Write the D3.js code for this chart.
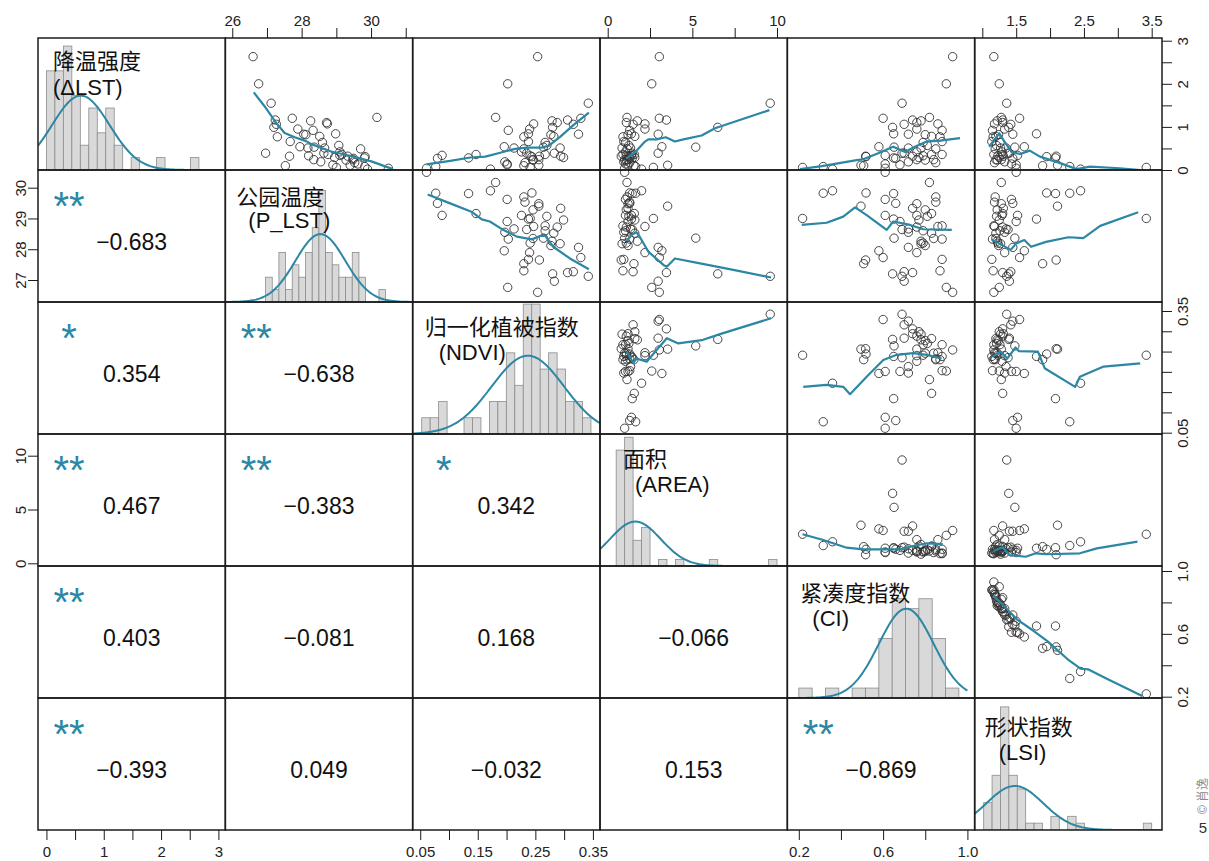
<!DOCTYPE html>
<html>
<head>
<meta charset="utf-8">
<script src="https://cdn.jsdelivr.net/npm/d3@7"></script>
<style>
body { margin: 0; background: #fff; }
</style>
</head>
<body>
<script>
// variable labels (diagonal)
var varNames = ["降温强度", "公园温度", "归一化植被指数", "面积", "紧凑度指数", "形状指数"];
var varCodes = ["(ΔLST)", "(P_LST)", "(NDVI)", "(AREA)", "(CI)", "(LSI)"];

// park values, one entry per park
var dLST = [2.63, 2.00, 1.55, 1.22, 1.20, 1.16, 1.14, 1.10, 1.07, 1.06, 0.99, 0.95, 0.92, 0.84, 0.83, 0.82, 0.78, 0.77, 0.66, 0.64,
    0.57, 0.53, 0.51, 0.51, 0.49, 0.54, 0.42, 0.39, 0.39, 0.36, 0.36, 0.34, 0.32, 0.32, 0.33, 0.31, 0.29, 0.28, 0.27, 0.24,
    0.24, 0.23, 0.19, 0.17, 0.14, 0.12, 0.11, 0.10, 0.08, 0.06, 0.04, 0.02];
var pLST = [26.60, 26.76, 27.12, 30.17, 27.73, 27.24, 28.26, 28.72, 28.74, 27.27, 27.20, 27.89, 28.33, 28.98, 28.06, 28.12, 28.52, 27.30, 27.67, 28.60,
    29.07, 28.36, 28.18, 28.66, 29.70, 27.95, 29.10, 26.96, 28.64, 28.76, 29.16, 29.10, 29.33, 27.65, 28.20, 29.83, 28.95, 29.81, 29.49, 28.35,
    29.48, 29.28, 28.55, 29.53, 29.62, 28.90, 29.40, 27.53, 29.82, 29.00, 30.50, 29.90];
var ndvi = [0.254, 0.202, 0.342, 0.181, 0.329, 0.306, 0.279, 0.288, 0.247, 0.316, 0.280, 0.240, 0.203, 0.238, 0.325, 0.277, 0.282, 0.230, 0.238, 0.267,
    0.270, 0.264, 0.293, 0.213, 0.230, 0.196, 0.226, 0.283, 0.235, 0.267, 0.147, 0.088, 0.294, 0.257, 0.241, 0.244, 0.299, 0.134, 0.080, 0.246,
    0.256, 0.246, 0.197, 0.232, 0.201, 0.201, 0.256, 0.230, 0.077, 0.241, 0.061, 0.172];
var area = [3.05, 2.60, 9.60, 1.14, 3.05, 3.47, 1.75, 1.10, 2.20, 1.50, 6.50, 2.20, 1.30, 1.40, 2.98, 1.20, 1.60, 0.90, 0.95, 1.05,
    1.25, 5.20, 0.85, 1.35, 1.15, 3.20, 1.05, 2.98, 1.45, 0.90, 1.57, 1.40, 1.20, 0.80, 1.10, 1.30, 1.60, 1.45, 1.30, 1.00,
    1.20, 1.10, 0.95, 1.30, 1.05, 1.20, 3.54, 1.55, 1.65, 2.70, 1.00, 2.00];
var ci = [0.93, 0.90, 0.69, 0.82, 0.60, 0.74, 0.78, 0.76, 0.86, 0.70, 0.645, 0.76, 0.88, 0.65, 0.72, 0.80, 0.83, 0.87, 0.88, 0.79,
    0.81, 0.652, 0.78, 0.72, 0.85, 0.58, 0.76, 0.70, 0.69, 0.88, 0.83, 0.61, 0.74, 0.517, 0.79, 0.519, 0.77, 0.65, 0.66, 0.84,
    0.76, 0.80, 0.72, 0.85, 0.61, 0.68, 0.495, 0.508, 0.316, 0.218, 0.61, 0.36];
var lsi = [1.17, 1.25, 1.36, 1.28, 1.55, 1.30, 1.22, 1.30, 1.18, 1.42, 1.39, 1.33, 1.15, 1.80, 1.45, 1.24, 1.20, 1.16, 1.14, 1.26,
    1.21, 1.48, 1.27, 1.35, 1.19, 1.62, 1.29, 1.40, 1.38, 1.17, 1.30, 1.52, 1.31, 2.09, 1.23, 1.95, 1.25, 2.08, 1.45, 1.20,
    1.28, 1.22, 1.33, 1.18, 1.43, 1.50, 2.11, 1.89, 2.29, 3.42, 1.50, 2.45];

// histogram bins on the diagonal (first break, bin width, counts)
var histStart = [0, 26.96, 0.0526, 0.5, 0.2, 1.02];
var histWidth = [0.1478, 0.1922, 0.0147, 0.5, 0.0633, 0.124];
var histDLST = [8, 8, 10, 6, 2, 5, 3, 5, 2, 0, 1, 0, 0, 1, 0, 0, 0, 1];
var histPLST = [2, 1, 4, 1, 3, 2, 4, 6, 9, 4, 3, 2, 2, 4, 2, 0, 0, 1];
var histNDVI = [1, 1, 2, 0, 0, 1, 1, 0, 2, 2, 5, 3, 8, 8, 4, 5, 4, 2, 2, 1];
var histAREA = [18, 20, 4, 6, 0, 1, 0, 1, 0, 0, 0, 1, 0, 0, 0, 0, 0, 0, 1];
var histCI = [1, 0, 1, 0, 1, 1, 6, 10, 9, 10, 6, 1];
var histLSI = [4, 8, 18, 8, 6, 1, 1, 0, 2, 0, 2, 1, 0, 0, 0, 0, 0, 0, 0, 1];

// normal curves over the histograms (mean, sd, peak in counts)
var normMean = [0.60, 28.54, 0.237, 1.63, 0.71, 1.48];
var normSd = [0.50, 0.72, 0.063, 1.50, 0.13, 0.42];
var normPeak = [6.0, 5.48, 4.82, 6.9, 9.0, 6.44];
var normTo = [null, null, null, null, 1.0, null];

// correlations (lower triangle)
var corrR = [[], [-0.683], [0.354, -0.638], [0.467, -0.383, 0.342],
    [0.403, -0.081, 0.168, -0.066], [-0.393, 0.049, -0.032, 0.153, -0.869]];
var corrStars = [[], ["**"], ["*", "**"], ["**", "**", "*"],
    ["**", "", "", ""], ["**", "", "", "", "**"]];

// smoother lines (upper triangle), [x, y]
var smooth12 = [[26.62, 1.80], [26.93, 1.48], [27.27, 1.09], [27.51, 0.86], [27.80, 0.76], [28.13, 0.67], [28.28, 0.60], [28.52, 0.53],
    [28.85, 0.43], [29.24, 0.36], [29.62, 0.28], [30.01, 0.20], [30.39, 0.09], [30.63, 0.02]];
var smooth13 = [[0.061, 0.13], [0.102, 0.21], [0.137, 0.29], [0.163, 0.31], [0.189, 0.40], [0.215, 0.49], [0.235, 0.52], [0.261, 0.52],
    [0.273, 0.56], [0.293, 0.77], [0.316, 1.04], [0.343, 1.33]];
var smooth14 = [[1.12, 0.27], [1.71, 0.45], [2.2, 0.66], [2.4, 0.71], [2.89, 0.71], [3.43, 0.76], [3.97, 0.66], [4.47, 0.71],
    [5.55, 0.80], [6.34, 0.97], [9.55, 1.39]];
var smooth15 = [[0.206, 0.02], [0.309, 0.09], [0.475, 0.23], [0.506, 0.25], [0.577, 0.39], [0.648, 0.54], [0.704, 0.42], [0.751, 0.54],
    [0.807, 0.66], [0.87, 0.68], [0.965, 0.74]];
var smooth16 = [[1.10, 0.54], [1.25, 0.85], [1.31, 0.70], [1.43, 0.42], [1.56, 0.37], [1.70, 0.45], [1.85, 0.31], [2.15, 0.16],
    [2.39, 0.02], [2.59, 0.08], [3.03, 0.04], [3.33, 0.0]];
var smooth23 = [[0.063, 29.78], [0.102, 29.49], [0.139, 29.22], [0.157, 28.97], [0.171, 28.90], [0.194, 28.63], [0.218, 28.41],
    [0.244, 28.32], [0.258, 28.43], [0.267, 28.44], [0.281, 28.08], [0.310, 27.70], [0.343, 27.35]];
var smooth24 = [[1.12, 28.27], [1.46, 28.49], [1.71, 28.55], [1.91, 28.39], [2.40, 27.92], [3.29, 27.49], [3.49, 27.43], [3.97, 27.70],
    [5.45, 27.54], [7.42, 27.33], [9.65, 27.08]];
var smooth25 = [[0.214, 28.79], [0.332, 28.86], [0.411, 29.06], [0.467, 29.36], [0.522, 29.11], [0.617, 28.63], [0.648, 28.90],
    [0.728, 28.79], [0.791, 28.65], [0.926, 28.63]];
var smooth26 = [[1.14, 28.32], [1.42, 27.98], [1.50, 28.19], [1.62, 28.30], [1.72, 28.08], [1.94, 28.24], [2.27, 28.39], [2.49, 28.36],
    [2.74, 28.76], [3.30, 29.20]];
var smooth34 = [[1.12, 0.250], [1.51, 0.222], [1.71, 0.233], [2.30, 0.225], [2.89, 0.254], [3.49, 0.283], [4.17, 0.270], [5.55, 0.278],
    [6.63, 0.293], [9.65, 0.332]];
var smooth35 = [[0.221, 0.163], [0.332, 0.168], [0.411, 0.163], [0.443, 0.145], [0.522, 0.188], [0.601, 0.229], [0.665, 0.242],
    [0.743, 0.246], [0.807, 0.242], [0.878, 0.233]];
var smooth36 = [[1.15, 0.237], [1.27, 0.250], [1.37, 0.233], [1.49, 0.260], [1.54, 0.251], [1.82, 0.250], [1.92, 0.209], [2.37, 0.163],
    [2.44, 0.188], [2.79, 0.213], [3.33, 0.221]];
var smooth45 = [[0.218, 2.70], [0.316, 2.16], [0.427, 1.45], [0.506, 1.30], [0.601, 1.30], [0.680, 1.30], [0.743, 1.61], [0.807, 1.86],
    [0.883, 1.79]];
var smooth46 = [[1.17, 1.17], [1.30, 1.49], [1.40, 0.77], [1.64, 0.61], [1.79, 0.93], [1.94, 0.84], [2.44, 0.93], [2.69, 1.39], [3.29, 2.01]];
var smooth56 = [[1.16, 0.845], [1.32, 0.777], [1.51, 0.692], [1.76, 0.618], [1.96, 0.554], [2.26, 0.438], [2.45, 0.378], [2.56, 0.374],
    [2.86, 0.31], [3.36, 0.204]];

// axis ticks and labels
var topAxes = [
    {col: 1, ticks: [26, 27, 28, 29, 30, 31], labels: [26, 28, 30], fmt: "d"},
    {col: 3, ticks: [0, 2.5, 5, 7.5, 10], labels: [0, 5, 10], fmt: "d"},
    {col: 5, ticks: [1, 1.5, 2, 2.5, 3, 3.5], labels: [1.5, 2.5, 3.5], fmt: ".1f"}];
var bottomAxes = [
    {col: 0, ticks: [0, 0.5, 1, 1.5, 2, 2.5, 3], labels: [0, 1, 2, 3], fmt: "d"},
    {col: 2, ticks: [0.05, 0.1, 0.15, 0.2, 0.25, 0.3, 0.35], labels: [0.05, 0.15, 0.25, 0.35], fmt: ".2f"},
    {col: 4, ticks: [0.2, 0.4, 0.6, 0.8, 1.0], labels: [0.2, 0.6, 1.0], fmt: ".1f"}];
var leftAxes = [
    {row: 1, ticks: [27, 28, 29, 30], labels: [27, 28, 29, 30], fmt: "d"},
    {row: 3, ticks: [0, 5, 10], labels: [0, 5, 10], fmt: "d"}];
var rightAxes = [
    {row: 0, ticks: [0, 0.5, 1, 1.5, 2, 2.5, 3], labels: [0, 1, 2, 3], fmt: "d"},
    {row: 2, ticks: [0.05, 0.1, 0.15, 0.2, 0.25, 0.3, 0.35], labels: [0.05, 0.35], fmt: ".2f"},
    {row: 4, ticks: [0.2, 0.4, 0.6, 0.8, 1.0], labels: [0.2, 0.6, 1.0], fmt: ".1f"}];

// General settings
var W = 1209, H = 861,
    margin = {left: 38, top: 38},
    cellW = 1124 / 6, cellH = 132,
    col = {line: "#2b87a3", bar: "#d9d9d9", barStroke: "#8c8c8c", point: "#333", frame: "#1b1b1b", text: "#111"},
    fontFamily = "'Liberation Sans', Arial, 'Noto Sans CJK SC', sans-serif",
    // scale domains of each variable as columns (x) and as rows (y)
    xDomain = [[-0.147, 3.121], [25.80, 31.20], [0.0369, 0.3623], [-0.455, 10.61], [0.1456, 1.0345], [0.887, 3.652]],
    yDomain = [[0, 3.063], [26.285, 30.575], [0.0468, 0.3722], [-0.251, 12.017], [0.1917, 1.0318], [0, 1]],
    histTop = [10.65, 10.65, 8.13, 20.5, 13.3, 19.3],
    labelDx = [15, 11, 12, 23, 13, 10], labelDy = [31, 35, 33, 33, 35, 37],
    labelDx2 = [15, 23, 26, 35, 25, 24], labelDy2 = [57, 58, 58, 58, 60, 62];

var data = [dLST, pLST, ndvi, area, ci, lsi];
var hists = [histDLST, histPLST, histNDVI, histAREA, histCI, histLSI];
var smooth = {"0,1": smooth12, "0,2": smooth13, "0,3": smooth14, "0,4": smooth15, "0,5": smooth16,
    "1,2": smooth23, "1,3": smooth24, "1,4": smooth25, "1,5": smooth26,
    "2,3": smooth34, "2,4": smooth35, "2,5": smooth36, "3,4": smooth45, "3,5": smooth46, "4,5": smooth56};

function cellX(j) { return margin.left + j * cellW; }
function cellY(i) { return margin.top + i * cellH; }
function xScale(j) { return d3.scaleLinear().domain(xDomain[j]).range([cellX(j), cellX(j) + cellW]); }
function yScale(i) { return d3.scaleLinear().domain(yDomain[i]).range([cellY(i) + cellH, cellY(i)]); }

var svg = d3.select("body").append("svg")
    .attr("width", W)
    .attr("height", H)
    .style("display", "block")
    .attr("font-family", fontFamily);

svg.append("rect").attr("width", W).attr("height", H).attr("fill", "#fff");

var defs = svg.append("defs");

function histPanel(g, k) {
    var x = xScale(k),
        y = d3.scaleLinear().domain([0, histTop[k]]).range([cellY(k) + cellH, cellY(k)]);
    var bins = hists[k].map(function(c, n) {
        return {x0: histStart[k] + n * histWidth[k], x1: histStart[k] + (n + 1) * histWidth[k], count: c};
    }).filter(function(d) { return d.count > 0; });

    g.selectAll(null)
        .data(bins)
        .enter()
        .append("rect")
            .attr("x", function(d) { return x(d.x0); })
            .attr("width", function(d) { return x(d.x1) - x(d.x0); })
            .attr("y", function(d) { return y(d.count); })
            .attr("height", function(d) { return y(0) - y(d.count); })
            .attr("fill", col.bar)
            .attr("stroke", col.barStroke)
            .attr("stroke-width", 0.8);

    // normal curve
    var from = xDomain[k][0],
        to = normTo[k] == null ? xDomain[k][1] : normTo[k];
    var xs = d3.range(0, 161).map(function(n) { return from + (to - from) * n / 160; });
    g.append("path")
        .datum(xs)
        .attr("fill", "none")
        .attr("stroke", col.line)
        .attr("stroke-width", 2)
        .attr("d", d3.line()
            .x(function(v) { return x(v); })
            .y(function(v) { return y(normPeak[k] * Math.exp(-0.5 * Math.pow((v - normMean[k]) / normSd[k], 2))); }));

    // variable label
    svg.append("text")
        .attr("class", "varlabel")
        .attr("x", cellX(k) + labelDx[k])
        .attr("y", cellY(k) + labelDy[k])
        .text(varNames[k]);
    svg.append("text")
        .attr("class", "varlabel")
        .attr("x", cellX(k) + labelDx2[k])
        .attr("y", cellY(k) + labelDy2[k])
        .text(varCodes[k]);
}

function scatterPanel(g, i, j) {
    var x = xScale(j), y = yScale(i);
    var pts = data[j].map(function(v, n) { return [v, data[i][n]]; });

    g.selectAll(null)
        .data(pts)
        .enter()
        .append("circle")
            .attr("cx", function(d) { return x(d[0]); })
            .attr("cy", function(d) { return y(d[1]); })
            .attr("r", 4.2)
            .attr("fill", "none")
            .attr("stroke", col.point)
            .attr("stroke-width", 0.9);

    g.append("path")
        .datum(smooth[i + "," + j])
        .attr("fill", "none")
        .attr("stroke", col.line)
        .attr("stroke-width", 2.2)
        .attr("stroke-linejoin", "round")
        .attr("d", d3.line()
            .x(function(d) { return x(d[0]); })
            .y(function(d) { return y(d[1]); }));
}

function corrPanel(i, j) {
    svg.append("text")
        .attr("x", cellX(j) + cellW / 2)
        .attr("y", cellY(i) + 80)
        .attr("text-anchor", "middle")
        .attr("font-size", "23px")
        .attr("fill", col.text)
        .text(d3.format(".3f")(corrR[i][j]));
    if (corrStars[i][j]) {
        svg.append("text")
            .attr("x", cellX(j) + 31)
            .attr("y", cellY(i) + 50)
            .attr("text-anchor", "middle")
            .attr("font-size", "40px")
            .attr("fill", col.line)
            .text(corrStars[i][j]);
    }
}

for (var i = 0; i < 6; i++) {
    for (var j = 0; j < 6; j++) {
        defs.append("clipPath")
            .attr("id", "clip-" + i + "-" + j)
            .append("rect")
            .attr("x", cellX(j))
            .attr("y", cellY(i))
            .attr("width", cellW)
            .attr("height", cellH);
        if (i === j) {
            histPanel(svg.append("g").attr("clip-path", "url(#clip-" + i + "-" + j + ")"), i);
        } else if (i < j) {
            scatterPanel(svg.append("g").attr("clip-path", "url(#clip-" + i + "-" + j + ")"), i, j);
        } else {
            corrPanel(i, j);
        }
    }
}

svg.selectAll(".varlabel")
    .attr("font-size", "22px")
    .attr("fill", col.text);

// panel frames
for (var i = 0; i < 6; i++) {
    for (var j = 0; j < 6; j++) {
        svg.append("rect")
            .attr("x", cellX(j))
            .attr("y", cellY(i))
            .attr("width", cellW)
            .attr("height", cellH)
            .attr("fill", "none")
            .attr("stroke", col.frame)
            .attr("stroke-width", 1.5);
    }
}

// axes
function labelFormat(a) {
    var f = d3.format(a.fmt);
    return function(v) {
        return a.labels.some(function(l) { return Math.abs(l - v) < 1e-9; }) ? f(v) : "";
    };
}

function styleAxis(g) {
    g.select(".domain").remove();
    g.attr("font-size", 15).attr("font-family", fontFamily).attr("color", col.frame);
    g.selectAll(".tick line").attr("stroke-width", 1);
    g.selectAll(".tick text").attr("fill", "#222");
}

topAxes.forEach(function(a) {
    svg.append("g")
        .attr("transform", "translate(0," + margin.top + ")")
        .call(d3.axisTop(xScale(a.col)).tickValues(a.ticks).tickSize(10).tickPadding(2).tickFormat(labelFormat(a)))
        .call(styleAxis);
});

bottomAxes.forEach(function(a) {
    svg.append("g")
        .attr("transform", "translate(0," + (margin.top + 6 * cellH) + ")")
        .call(d3.axisBottom(xScale(a.col)).tickValues(a.ticks).tickSize(10).tickPadding(6).tickFormat(labelFormat(a)))
        .call(styleAxis);
});

leftAxes.forEach(function(a) {
    svg.append("g")
        .attr("transform", "translate(" + margin.left + ",0)")
        .call(d3.axisLeft(yScale(a.row)).tickValues(a.ticks).tickSize(10).tickFormat(labelFormat(a)))
        .call(styleAxis)
        .selectAll(".tick text")
            .attr("transform", "rotate(-90)")
            .attr("x", 0)
            .attr("y", -12)
            .attr("dy", null)
            .attr("text-anchor", "middle");
});

rightAxes.forEach(function(a) {
    svg.append("g")
        .attr("transform", "translate(" + (margin.left + 6 * cellW) + ",0)")
        .call(d3.axisRight(yScale(a.row)).tickValues(a.ticks).tickSize(10).tickFormat(labelFormat(a)))
        .call(styleAxis)
        .selectAll(".tick text")
            .attr("transform", "rotate(-90)")
            .attr("x", 0)
            .attr("y", 26)
            .attr("dy", null)
            .attr("text-anchor", "middle");
});

// watermark
svg.append("text")
    .attr("transform", "translate(1207,796) rotate(-90)")
    .attr("text-anchor", "middle")
    .attr("font-size", "12px")
    .attr("fill", "#8a8a8a")
    .text("© 肖逸");
svg.append("text")
    .attr("x", 1203)
    .attr("y", 833)
    .attr("text-anchor", "middle")
    .attr("font-size", "15px")
    .attr("fill", "#333")
    .text("5");
</script>
</body>
</html>
